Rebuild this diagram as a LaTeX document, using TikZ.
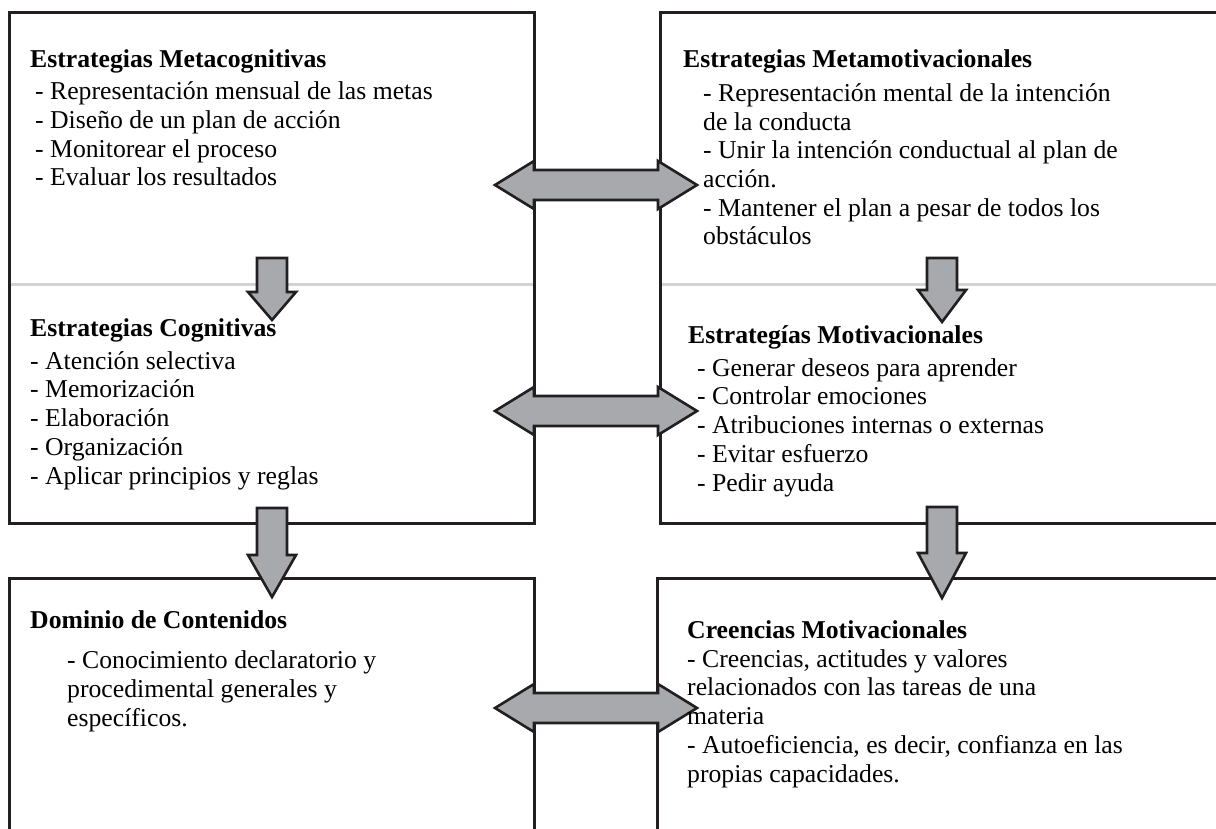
\documentclass[tikz,border=0pt]{standalone}
\usepackage{fontspec}
\setmainfont{Liberation Serif}
\definecolor{arrowgrey}{HTML}{A7A9AC}
\definecolor{boxline}{HTML}{231F20}
\definecolor{divgrey}{HTML}{D1D3D4}

\begin{document}
\begin{tikzpicture}[x=1pt,y=-1pt,
  panel/.style={draw=boxline, line width=3pt},
  divider/.style={draw=divgrey, line width=3pt},
  blockarrow/.style={fill=arrowgrey, draw=boxline, line width=2.6pt, line join=miter},
  title/.style={anchor=base west, inner sep=0pt, font=\bfseries\fontsize{25.7}{28.7}\selectfont},
  % lists are placed by the baseline of their last line
  items/.style={anchor=base west, inner sep=0pt, align=left, font=\fontsize{25.7}{28.7}\selectfont}]
  \useasboundingbox (0,0) rectangle (1216,829);
  % boxes
  \draw[panel] (9,13) rectangle (534,523);
  \draw[panel] (660,13) rectangle (1240,523);
  \draw[panel] (9,578) rectangle (534,850);
  \draw[panel] (657,578) rectangle (1240,850);
  \draw[divider] (10.5,285) -- (532.5,285);
  \draw[divider] (661.5,285) -- (1216,285);
  % double arrows between the columns
  \foreach \y in {185,411,708}
    \draw[blockarrow] (495,\y) -- (534,\y-24) -- (534,\y-15) -- (658,\y-15) -- (658,\y-24)
      -- (697,\y) -- (658,\y+24) -- (658,\y+15) -- (534,\y+15) -- (534,\y+24) -- cycle;
  % down arrows
  \foreach \x/\ytop/\ybase/\ytip in {272/258/292/320, 942/258/290/322, 272/508/555/597, 942/507/553/598}
    \draw[blockarrow] (\x-15,\ytop) -- (\x+15,\ytop) -- (\x+15,\ybase) -- (\x+24,\ybase)
      -- (\x,\ytip) -- (\x-24,\ybase) -- (\x-15,\ybase) -- cycle;
  % texts
  \node[title] (metacog) at (30,68) {Estrategias Metacognitivas};
  \node[items] (metacoglist) at (35,186) {- Representación mensual de las metas\\- Diseño de un plan de acción\\- Monitorear el proceso\\- Evaluar los resultados};
  \node[title] (metamot) at (683,68) {Estrategias Metamotivacionales};
  \node[items] (metamotlist) at (703,245) {- Representación mental de la intención\\de la conducta\\- Unir la intención conductual al plan de\\acción.\\- Mantener el plan a pesar de todos los\\obstáculos};
  \node[title] (cog) at (30,336) {Estrategias Cognitivas};
  \node[items] (coglist) at (30,484) {- Atención selectiva\\- Memorización\\- Elaboración\\- Organización\\- Aplicar principios y reglas};
  \node[title] (mot) at (688,343) {Estrategías Motivacionales};
  \node[items] (motlist) at (697,491) {- Generar deseos para aprender\\- Controlar emociones\\- Atribuciones internas o externas\\- Evitar esfuerzo\\- Pedir ayuda};
  \node[title] (dom) at (30,628) {Dominio de Contenidos};
  \node[items] (domlist) at (67,726) {- Conocimiento declaratorio y\\procedimental generales y\\específicos.};
  \node[title] (cre) at (687,638) {Creencias Motivacionales};
  \node[items] (crelist) at (687,782) {- Creencias, actitudes y valores\\relacionados con las tareas de una\\materia\\- Autoeficiencia, es decir, confianza en las\\propias capacidades.};
\end{tikzpicture}
\end{document}
